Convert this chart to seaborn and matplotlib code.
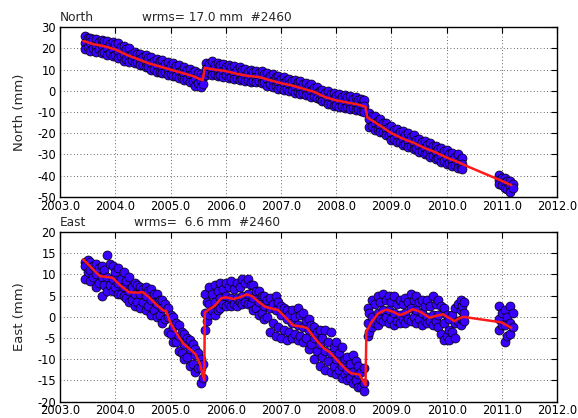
import matplotlib
matplotlib.use("Agg")
import numpy as np
import pandas as pd
import matplotlib.pyplot as plt
import seaborn as sns

# ---------------- data ----------------
north_t = [2003.45, 2003.55, 2003.65, 2003.75, 2003.85, 2003.95, 2004.05, 2004.15, 2004.25, 2004.35,
           2004.45, 2004.55, 2004.65, 2004.75, 2004.85, 2004.95, 2005.05, 2005.15, 2005.25, 2005.35,
           2005.45, 2005.55, 2005.65, 2005.75, 2005.85, 2005.95, 2006.05, 2006.15, 2006.25, 2006.35,
           2006.45, 2006.55, 2006.65, 2006.75, 2006.85, 2006.95, 2007.05, 2007.15, 2007.25, 2007.35,
           2007.45, 2007.55, 2007.65, 2007.75, 2007.85, 2007.95, 2008.05, 2008.15, 2008.25, 2008.35,
           2008.45, 2008.50, 2008.60, 2008.70, 2008.80, 2008.90, 2009.00, 2009.10, 2009.20, 2009.30,
           2009.40, 2009.50, 2009.60, 2009.70, 2009.80, 2009.90, 2010.00, 2010.10, 2010.20, 2010.28,
           2010.95, 2011.05, 2011.15]
north_hi = [26.0, 25.0, 24.5, 24.0, 23.5, 23.0, 22.5, 21.0, 20.0, 18.5,
            17.5, 17.0, 16.0, 15.0, 14.5, 13.5, 13.0, 12.0, 11.0, 10.5,
            9.5, 8.0, 13.0, 14.0, 13.0, 12.5, 12.0, 11.5, 11.0, 10.5,
            10.0, 9.5, 9.5, 8.5, 8.0, 7.0, 6.5, 5.5, 5.0, 4.5,
            3.5, 3.0, 2.0, 0.5, 0.0, -1.0, -1.5, -2.0, -2.5, -3.0,
            -4.0, -4.5, -10.5, -12.0, -13.5, -15.0, -16.5, -18.0, -19.0, -20.0,
            -21.0, -22.5, -23.5, -24.5, -26.0, -27.0, -28.0, -29.5, -30.0, -31.5,
            -39.5, -41.0, -42.5]
north_mid = [22.5, 23.0, 21.0, 21.5, 20.0, 19.5, 19.0, 17.5, 16.5, 15.5,
             15.0, 13.5, 13.0, 12.0, 11.0, 10.5, 9.5, 9.0, 8.0, 7.5,
             6.0, 5.0, 10.5, 10.0, 10.0, 9.5, 9.0, 8.5, 7.5, 7.0,
             7.0, 6.5, 6.0, 5.5, 4.5, 4.0, 3.5, 3.0, 2.0, 1.5,
             0.5, 0.0, -1.0, -2.5, -3.5, -4.0, -4.5, -5.0, -6.0, -6.0,
             -7.0, -7.0, -13.5, -15.0, -16.5, -18.0, -20.0, -21.0, -22.5, -23.5,
             -24.5, -26.0, -27.0, -28.0, -29.0, -30.5, -31.5, -32.5, -33.5, -34.5,
             -42.0, -43.0, -45.0]
north_lo = [19.5, 19.0, 18.5, 18.0, 17.0, 16.5, 15.5, 14.0, 13.5, 13.0,
            12.0, 11.0, 10.0, 9.0, 8.5, 7.5, 7.0, 6.0, 5.0, 4.0,
            2.5, 2.0, 7.5, 7.5, 7.0, 6.5, 6.0, 5.5, 5.0, 4.5,
            4.0, 4.0, 3.5, 2.5, 2.0, 1.0, 0.5, 0.0, -1.0, -1.5,
            -2.0, -3.0, -3.5, -5.0, -6.0, -7.0, -7.5, -8.0, -8.5, -9.0,
            -9.5, -10.0, -17.0, -18.5, -19.5, -21.0, -23.0, -24.0, -25.5, -26.5,
            -27.5, -29.0, -30.0, -31.0, -32.0, -33.5, -34.5, -35.5, -36.5, -37.0,
            -44.0, -46.0, -47.5]
north_t2 = [2003.50, 2003.60, 2003.70, 2003.80, 2003.90, 2004.00, 2004.10, 2004.20, 2004.30, 2004.40,
            2004.50, 2004.60, 2004.70, 2004.80, 2004.90, 2005.00, 2005.10, 2005.20, 2005.30, 2005.40,
            2005.50, 2005.58, 2005.70, 2005.80, 2005.90, 2006.00, 2006.10, 2006.20, 2006.30, 2006.40,
            2006.50, 2006.60, 2006.70, 2006.80, 2006.90, 2007.00, 2007.10, 2007.20, 2007.30, 2007.40,
            2007.50, 2007.60, 2007.70, 2007.80, 2007.90, 2008.00, 2008.10, 2008.20, 2008.30, 2008.40,
            2008.48, 2008.65, 2008.75, 2008.85, 2008.95, 2009.05, 2009.15, 2009.25, 2009.35, 2009.45,
            2009.55, 2009.65, 2009.75, 2009.85, 2009.95, 2010.05, 2010.15, 2010.25, 2011.00, 2011.10,
            2011.20]
north_q1 = [25.0, 24.5, 23.0, 23.5, 22.0, 22.0, 20.5, 19.5, 17.5, 17.5,
            16.0, 15.5, 14.0, 14.0, 12.5, 12.0, 11.5, 10.0, 10.0, 9.0,
            8.5, 6.5, 12.5, 12.0, 12.0, 11.0, 11.0, 10.0, 10.0, 9.0,
            9.0, 8.5, 8.0, 7.0, 6.5, 5.5, 5.0, 4.5, 4.0, 3.0,
            2.5, 1.5, 0.0, -1.0, -1.5, -2.5, -3.0, -3.0, -4.0, -4.5,
            -5.0, -12.0, -14.0, -15.0, -17.0, -18.5, -19.5, -21.0, -22.0, -23.0,
            -24.0, -25.5, -26.0, -27.5, -28.5, -30.0, -31.0, -32.0, -41.0, -42.5,
            -44.0]
north_q2 = [20.5, 20.0, 19.5, 18.5, 18.0, 17.0, 16.5, 15.0, 14.5, 13.5,
            12.0, 11.0, 10.5, 9.0, 9.0, 8.0, 7.0, 6.5, 5.5, 4.5,
            3.5, 3.0, 8.5, 8.0, 7.5, 7.5, 6.5, 6.0, 5.5, 5.0,
            4.5, 4.5, 4.0, 3.0, 2.5, 1.5, 1.0, 0.5, -0.5, -1.0,
            -2.0, -2.5, -4.0, -5.0, -6.0, -6.5, -7.0, -7.5, -8.0, -8.5,
            -9.0, -16.5, -18.0, -19.5, -21.0, -22.5, -24.0, -25.0, -26.0, -27.0,
            -28.5, -29.5, -30.5, -31.5, -33.0, -34.0, -35.0, -36.0, -44.5, -46.5,
            -46.0]
north_model_t = [2003.42, 2003.6, 2003.8, 2004.0, 2004.2, 2004.4, 2004.6, 2004.8, 2005.0, 2005.2,
                 2005.4, 2005.58, 2005.62, 2005.8, 2006.0, 2006.2, 2006.4, 2006.6, 2006.8, 2007.0,
                 2007.2, 2007.4, 2007.6, 2007.8, 2008.0, 2008.2, 2008.4, 2008.53, 2008.56, 2008.8,
                 2009.0, 2009.2, 2009.4, 2009.6, 2009.8, 2010.0, 2010.2, 2010.32, 2011.0, 2011.17]
north_model_v = [23.5, 22.0, 21.0, 19.5, 17.0, 15.0, 13.0, 11.5, 10.0, 8.5,
                 7.0, 5.0, 10.8, 10.0, 9.3, 8.0, 7.0, 6.5, 5.0, 3.6,
                 2.5, 1.0, -0.5, -3.0, -4.5, -5.5, -6.5, -7.5, -12.5, -16.5,
                 -20.0, -22.5, -24.5, -27.0, -29.0, -31.5, -33.5, -35.0, -42.5, -44.5]

east_t = [2003.45, 2003.55, 2003.65, 2003.75, 2003.85, 2003.95, 2004.05, 2004.15, 2004.25, 2004.35,
          2004.45, 2004.55, 2004.65, 2004.75, 2004.85, 2004.95, 2005.05, 2005.15, 2005.25, 2005.35,
          2005.45, 2005.55, 2005.63, 2005.70, 2005.80, 2005.90, 2006.00, 2006.10, 2006.20, 2006.30,
          2006.40, 2006.50, 2006.60, 2006.70, 2006.80, 2006.90, 2007.00, 2007.10, 2007.20, 2007.30,
          2007.40, 2007.50, 2007.60, 2007.70, 2007.80, 2007.90, 2008.00, 2008.10, 2008.20, 2008.30,
          2008.40, 2008.50, 2008.57, 2008.65, 2008.75, 2008.85, 2008.95, 2009.05, 2009.15, 2009.25,
          2009.35, 2009.45, 2009.55, 2009.65, 2009.75, 2009.85, 2009.95, 2010.05, 2010.15, 2010.25,
          2010.32, 2010.95, 2011.05, 2011.15]
east_hi = [13.0, 13.0, 12.5, 12.0, 14.5, 12.0, 11.5, 10.5, 9.5, 8.0,
           7.0, 7.0, 6.5, 5.5, 4.0, 2.0, 0.0, -2.0, -4.0, -5.5,
           -7.5, -10.0, 5.5, 7.0, 7.5, 8.0, 8.0, 8.5, 8.0, 9.0,
           9.0, 7.5, 6.0, 5.0, 4.5, 5.0, 2.5, 1.5, 1.5, 2.0,
           1.0, -0.5, -2.5, -3.0, -3.0, -3.5, -6.0, -7.0, -9.5, -9.0,
           -11.5, -12.0, 2.0, 4.0, 5.0, 5.5, 5.0, 5.0, 4.0, 4.5,
           5.5, 5.0, 4.0, 4.0, 5.0, 4.0, 2.0, -0.5, 2.0, 4.0,
           3.5, 2.5, 1.5, 2.5]
east_mid = [12.0, 11.0, 10.0, 9.5, 9.5, 9.0, 8.0, 7.0, 6.0, 5.5,
            5.5, 5.0, 4.0, 3.0, 2.0, 0.0, -2.5, -4.5, -6.5, -7.5,
            -9.0, -12.0, 1.0, 3.0, 3.5, 4.5, 5.0, 4.5, 4.5, 5.0,
            5.5, 4.5, 3.5, 2.5, 2.0, 1.5, 0.5, -0.5, -1.5, -2.0,
            -2.5, -3.0, -5.0, -6.5, -8.0, -8.5, -10.0, -11.5, -12.5, -13.0,
            -13.5, -15.5, -1.5, 0.0, 1.0, 1.5, 1.5, 1.0, 0.5, 1.0,
            2.0, 1.5, 1.0, 0.0, 0.5, 0.5, -1.5, -3.0, -1.5, 1.5,
            1.0, -0.5, -2.0, -1.5]
east_lo = [9.0, 8.5, 7.0, 5.0, 6.0, 6.0, 5.5, 5.0, 3.5, 2.5,
           2.0, 1.5, 0.5, 0.0, -1.5, -3.5, -6.0, -8.0, -10.0, -11.5,
           -13.0, -15.5, -3.0, 0.5, 0.5, 2.0, 2.5, 2.5, 2.5, 3.0,
           3.0, 1.5, 0.5, -0.5, -3.5, -4.5, -5.0, -5.5, -5.0, -5.5,
           -6.0, -7.5, -10.0, -11.5, -12.5, -13.0, -13.5, -14.5, -15.0, -15.5,
           -16.5, -17.5, -4.5, -2.5, -2.0, -1.0, -1.5, -2.0, -1.5, -1.5,
           -1.0, -1.5, -2.0, -1.5, -2.0, -2.5, -5.5, -5.5, -5.0, -2.0,
           -1.0, -3.0, -6.0, -4.0]
east_t2 = [2003.50, 2003.60, 2003.70, 2003.80, 2003.90, 2004.00, 2004.10, 2004.20, 2004.30, 2004.40,
           2004.50, 2004.60, 2004.70, 2004.80, 2004.90, 2005.00, 2005.10, 2005.20, 2005.30, 2005.40,
           2005.50, 2005.58, 2005.66, 2005.75, 2005.85, 2005.95, 2006.05, 2006.15, 2006.25, 2006.35,
           2006.45, 2006.55, 2006.65, 2006.75, 2006.85, 2006.95, 2007.05, 2007.15, 2007.25, 2007.35,
           2007.45, 2007.55, 2007.65, 2007.75, 2007.85, 2007.95, 2008.05, 2008.15, 2008.25, 2008.35,
           2008.45, 2008.60, 2008.70, 2008.80, 2008.90, 2009.00, 2009.10, 2009.20, 2009.30, 2009.40,
           2009.50, 2009.60, 2009.70, 2009.80, 2009.90, 2010.00, 2010.10, 2010.20, 2010.28, 2011.00,
           2011.10, 2011.20]
east_q1 = [13.5, 12.0, 11.5, 11.0, 12.5, 10.5, 9.0, 8.5, 7.0, 7.5,
           6.5, 6.0, 5.5, 4.0, 3.0, 0.5, -1.5, -3.5, -5.0, -6.5,
           -8.5, -11.0, 3.5, 5.5, 6.0, 6.5, 7.0, 6.5, 7.0, 8.0,
           7.5, 6.0, 5.0, 4.0, 3.0, 3.5, 2.0, 0.5, 0.0, 0.5,
           -1.0, -2.0, -3.5, -5.0, -6.0, -7.0, -8.5, -10.0, -11.0, -10.5,
           -13.0, 1.0, 3.0, 3.5, 4.0, 3.5, 3.0, 3.0, 3.5, 4.0,
           3.5, 2.5, 2.5, 3.0, 2.5, 0.5, 0.5, 3.0, 2.5, 1.0,
           0.0, 1.0]
east_q2 = [10.5, 9.5, 8.0, 7.5, 7.5, 7.0, 5.5, 4.5, 4.0, 3.5,
           3.5, 2.5, 1.5, 0.5, -0.5, -4.0, -6.0, -8.5, -9.5, -11.0,
           -12.0, -14.5, -1.0, 1.5, 1.5, 3.0, 3.0, 3.0, 3.5, 3.5,
           3.0, 2.0, 1.0, 0.0, -1.5, -2.5, -3.0, -3.5, -4.0, -4.5,
           -5.0, -6.5, -8.0, -9.5, -10.5, -11.5, -12.5, -13.5, -14.5, -15.0,
           -16.5, -3.5, -1.5, -0.5, 0.0, -0.5, -1.0, -0.5, -0.5, 0.0,
           -0.5, -1.0, -1.0, -1.0, -4.0, -4.5, -3.5, -1.0, -0.5, -2.0,
           -4.5, -2.5]
east_model_t = [2003.42, 2003.55, 2003.72, 2003.85, 2003.95, 2004.1, 2004.25, 2004.4, 2004.5, 2004.62,
                2004.75, 2004.87, 2004.92, 2005.0, 2005.11, 2005.23, 2005.35, 2005.45, 2005.53, 2005.61,
                2005.62, 2005.70, 2005.80, 2005.92, 2006.0, 2006.15, 2006.25, 2006.38, 2006.47, 2006.6,
                2006.71, 2006.85, 2006.95, 2007.07, 2007.22, 2007.37, 2007.47, 2007.64, 2007.78, 2007.88,
                2008.06, 2008.17, 2008.27, 2008.42, 2008.53, 2008.545, 2008.64, 2008.76, 2008.9, 2009.03,
                2009.15, 2009.27, 2009.39, 2009.52, 2009.69, 2009.8, 2009.93, 2010.05, 2010.14, 2010.22,
                2010.3, 2010.99, 2011.17]
east_model_v = [13.5, 11.8, 9.6, 9.4, 9.2, 7.3, 5.8, 5.7, 5.8, 4.5,
                2.8, 1.5, 1.4, -1.5, -3.9, -6.3, -7.6, -8.8, -11.0, -14.9,
                1.0, 1.8, 2.6, 4.4, 4.6, 4.2, 4.6, 5.3, 4.9, 3.5,
                2.4, 1.9, 1.6, 0.0, -2.0, -2.3, -2.6, -5.5, -7.5, -8.3,
                -10.8, -12.3, -13.3, -13.6, -16.1, -3.5, -1.2, 0.8, 1.7, 1.2,
                0.4, 1.0, 1.8, 1.2, -0.2, 0.2, 0.6, -0.3, -1.0, -0.4,
                0.0, -1.3, -2.6]

north_title = "North"
east_title = "East"
north_stats = "wrms= 17.0 mm  #2460"
east_stats = "wrms=  6.6 mm  #2460"
x_ticks = [2003.0, 2004.0, 2005.0, 2006.0, 2007.0, 2008.0, 2009.0, 2010.0, 2011.0, 2012.0]
north_yticks = [-50, -40, -30, -20, -10, 0, 10, 20, 30]
east_yticks = [-20, -15, -10, -5, 0, 5, 10, 15, 20]

# ---------------- style ----------------
sns.set_style("white")
plt.rcParams.update({
    "font.family": ["DejaVu Sans"],
    "font.size": 8.3,
    "axes.edgecolor": "black",
    "axes.linewidth": 1.0,
    "xtick.direction": "in",
    "ytick.direction": "in",
    "xtick.top": True,
    "ytick.right": True,
    "xtick.major.size": 4,
    "ytick.major.size": 4,
    "xtick.major.pad": 2.0,
    "ytick.major.pad": 3.0,
    "xtick.color": "black",
    "ytick.color": "black",
    "xtick.labelsize": 8.3,
    "ytick.labelsize": 8.3,
})


def points_frame(groups):
    df = pd.concat([pd.DataFrame({"t": t, "v": v}) for t, v in groups], ignore_index=True)
    return df.sort_values("t", kind="stable")


fig = plt.figure(figsize=(5.78, 4.18), dpi=100)
ax1 = fig.add_axes([0.104, 0.529, 0.860, 0.406])
ax2 = fig.add_axes([0.104, 0.039, 0.860, 0.406])

panels = [
    (ax1, points_frame([(north_t, north_hi), (north_t2, north_q1), (north_t, north_mid),
                        (north_t2, north_q2), (north_t, north_lo)]),
     pd.DataFrame({"t": north_model_t, "v": north_model_v}),
     north_title, north_stats, "North (mm)", north_yticks, 0.164),
    (ax2, points_frame([(east_t, east_hi), (east_t2, east_q1), (east_t, east_mid),
                        (east_t2, east_q2), (east_t, east_lo)]),
     pd.DataFrame({"t": east_model_t, "v": east_model_v}),
     east_title, east_stats, "East (mm)", east_yticks, 0.149),
]

for ax, pts, model, title, stats, ylab, yt, sx in panels:
    sns.scatterplot(data=pts, x="t", y="v", ax=ax, s=42, color="#3a00ff",
                    edgecolor="black", linewidth=0.5, zorder=2, legend=False)
    sns.lineplot(data=model, x="t", y="v", ax=ax, sort=False, estimator=None,
                 color="#ff1a1a", linewidth=1.8, zorder=3)
    ax.set_xlim(2003.0, 2012.0)
    ax.set_ylim(yt[0], yt[-1])
    ax.set_xticks(x_ticks)
    ax.set_xticklabels([f"{v:.1f}" for v in x_ticks])
    ax.set_yticks(yt)
    ax.set_yticklabels([f"{v:d}" for v in yt])
    ax.grid(True, color="black", linestyle=(0, (1, 3)), linewidth=0.6, alpha=0.8)
    ax.set_axisbelow(True)
    ax.set_xlabel("")
    ax.set_ylabel(ylab, fontsize=9.5, labelpad=8)
    ax.text(0.0, 1.035, title, transform=ax.transAxes, ha="left", va="baseline", fontsize=8.7)
    ax.text(sx, 1.035, stats, transform=ax.transAxes, ha="left", va="baseline", fontsize=8.7)
    for sp in ax.spines.values():
        sp.set_visible(True)
        sp.set_color("black")

fig.savefig("out.png", dpi=100)
